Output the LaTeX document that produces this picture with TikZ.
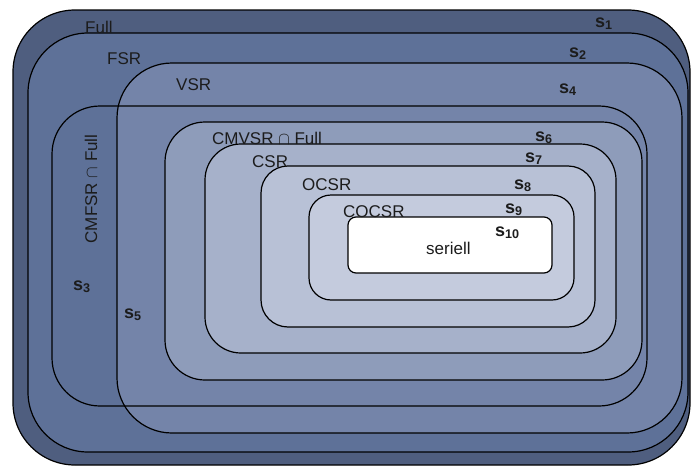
\documentclass[tikz,border=0pt]{standalone}
\usepackage{fontspec}
\setmainfont{Liberation Sans}
\definecolor{cFull}{HTML}{4F5E7F}
\definecolor{cFSR}{HTML}{5E7198}
\definecolor{cVSR}{HTML}{7484A9}
\definecolor{cCMVSR}{HTML}{8E9CBA}
\definecolor{cCSR}{HTML}{A6B1CA}
\definecolor{cOCSR}{HTML}{B8C1D6}
\definecolor{cCOCSR}{HTML}{C4CBDD}
\definecolor{ink}{HTML}{1C1C1C}
\begin{document}
\begin{tikzpicture}[x=1pt,y=-1pt,
  region/.style={draw=black,line width=1.2pt},
  setname/.style={anchor=base west,inner sep=0pt,text=ink,font=\fontsize{17}{19}\selectfont},
  stag/.style={anchor=base west,inner sep=0pt,text=ink,font=\fontsize{18}{20}\selectfont\bfseries}]
\useasboundingbox (0,0) rectangle (691,466);
% nested classes of schedules
\path[region,fill=cFull,rounded corners=62pt] (13,10) rectangle (690,465);
\path[region,fill=cFSR,rounded corners=60pt] (28,33) rectangle (688,452);
\path[region,fill=cVSR,rounded corners=55pt] (117,63) rectangle (682,433);
\path[region,rounded corners=48pt] (52,106) rectangle (647,406);
\path[region,fill=cCMVSR,rounded corners=40pt] (165,122) rectangle (642,380);
\path[region,fill=cCSR,rounded corners=36pt] (205,144) rectangle (616,353);
\path[region,fill=cOCSR,rounded corners=27pt] (261,166) rectangle (595,327);
\path[region,fill=cCOCSR,rounded corners=22pt] (309,195) rectangle (574,300);
\path[region,fill=white,rounded corners=8pt] (348,217) rectangle (552,273);
% class names
\node[setname] (nFull) at (85,33) {Full};
\node[setname] (nFSR) at (107,64) {FSR};
\node[setname] (nVSR) at (176,90) {VSR};
\node[setname] (nCMVSR) at (212,144) {CMVSR $\cap$ Full};
\node[setname] (nCSR) at (252,167) {CSR};
\node[setname] (nOCSR) at (302,190) {OCSR};
\node[setname] (nCOCSR) at (343,217) {COCSR};
\node[setname] (nser) at (426,254) {seriell};
\node[setname,anchor=base,rotate=90] (nCMFSR) at (97,189) {CMFSR $\cap$ Full};
% example schedules
\node[stag] (s1) at (595,27) {s\textsubscript{1}};
\node[stag] (s2) at (569,57) {s\textsubscript{2}};
\node[stag] (s3) at (73,290) {s\textsubscript{3}};
\node[stag] (s4) at (559,93) {s\textsubscript{4}};
\node[stag] (s5) at (124,318) {s\textsubscript{5}};
\node[stag] (s6) at (535,141) {s\textsubscript{6}};
\node[stag] (s7) at (525,162) {s\textsubscript{7}};
\node[stag] (s8) at (514,189) {s\textsubscript{8}};
\node[stag] (s9) at (505,213) {s\textsubscript{9}};
\node[stag] (s10) at (495,236) {s\textsubscript{10}};
\end{tikzpicture}
\end{document}
